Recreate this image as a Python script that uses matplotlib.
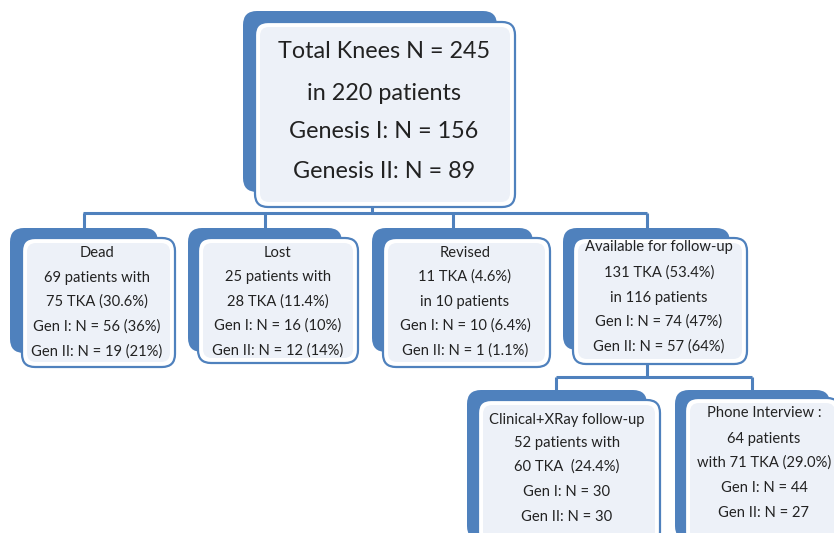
import matplotlib
matplotlib.use("Agg")
import matplotlib.pyplot as plt
from matplotlib.patches import FancyBboxPatch

# ---- data (text content of the flowchart) ----
top_lines = ["Total Knees N = 245", "in 220 patients", "Genesis I: N = 156", "Genesis II: N = 89"]
dead_lines = ["Dead", "69 patients with", "75 TKA (30.6%)", "Gen I: N = 56 (36%)", "Gen II: N = 19 (21%)"]
lost_lines = ["Lost", "25 patients with", "28 TKA (11.4%)", "Gen I: N = 16 (10%)", "Gen II: N = 12 (14%)"]
revised_lines = ["Revised", "11 TKA (4.6%)", "in 10 patients", "Gen I: N = 10 (6.4%)", "Gen II: N = 1 (1.1%)"]
avail_lines = ["Available for follow-up", "131 TKA (53.4%)", "in 116 patients", "Gen I: N = 74 (47%)", "Gen II: N = 57 (64%)"]
clinical_lines = ["Clinical+XRay follow-up", "52 patients with", "60 TKA  (24.4%)", "Gen I: N = 30", "Gen II: N = 30"]
phone_lines = ["Phone Interview :", "64 patients", "with 71 TKA (29.0%)", "Gen I: N = 44", "Gen II: N = 27"]

# ---- layout (pixels) ----
W, H = 834, 533
BLUE = "#4F81BD"
FILL = "#EDF1F8"
TXT = "#222222"
FONT = ["Lato", "DejaVu Sans"]

fig = plt.figure(figsize=(W / 100, H / 100), dpi=100)
ax = fig.add_axes([0, 0, 1, 1])
ax.set_xlim(0, W)
ax.set_ylim(H, 0)
ax.axis("off")


def node(back, front, lines, cx, ys, fs):
    bx0, by0, bx1, by1 = back
    ax.add_patch(FancyBboxPatch((bx0, by0), bx1 - bx0, by1 - by0,
                                boxstyle="round,pad=0,rounding_size=14",
                                fc=BLUE, ec=BLUE, lw=0, zorder=2))
    fx0, fy0, fx1, fy1 = front
    ax.add_patch(FancyBboxPatch((fx0, fy0), fx1 - fx0, fy1 - fy0,
                                boxstyle="round,pad=0,rounding_size=13",
                                fc="white", ec=BLUE, lw=1.6, zorder=3))
    ins = 5
    ax.add_patch(FancyBboxPatch((fx0 + ins, fy0 + ins), fx1 - fx0 - 2 * ins, fy1 - fy0 - 2 * ins,
                                boxstyle="round,pad=0,rounding_size=9",
                                fc=FILL, ec="none", lw=0, zorder=4))
    for s, y in zip(lines, ys):
        ax.text(cx, y, s, ha="center", va="center", fontsize=fs, color=TXT,
                family=FONT, zorder=5)


def line(xs, ys):
    ax.plot(xs, ys, color=BLUE, lw=2.2, solid_capstyle="butt", zorder=1)


# connectors
line([372, 372], [205, 213])
line([83, 647], [213, 213])
for x in [84, 265, 453, 647]:
    line([x, x], [213, 230])
line([647, 647], [362, 377])
line([556, 752], [377, 377])
for x in [556, 752]:
    line([x, x], [377, 392])

SMALL = 10.6
node((243, 11, 497, 192), (255, 22, 515, 207), top_lines, 384, [52, 93, 132, 172], 16.8)
node((10, 228, 158, 353), (22, 238, 175, 367), dead_lines, 97, [253, 278, 302, 327, 352], SMALL)
node((188, 228, 342, 352), (198, 238, 358, 363), lost_lines, 278, [253, 277, 302, 326, 351], SMALL)
node((372, 228, 533, 352), (383, 238, 550, 367), revised_lines, 465, [253, 277, 302, 326, 351], SMALL)
node((563, 228, 730, 350), (573, 238, 747, 364), avail_lines, 659, [247, 273, 298, 322, 347], SMALL)
node((467, 390, 647, 540), (478, 400, 660, 545), clinical_lines, 567, [420, 443, 467, 492, 517], SMALL)
node((675, 390, 830, 540), (685, 398, 840, 545), phone_lines, 764, [413, 439, 463, 488, 513], SMALL)

fig.savefig("out.png", dpi=100)
